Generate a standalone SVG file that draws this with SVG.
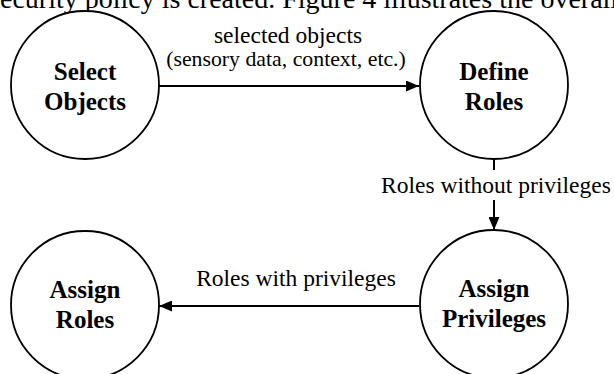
<svg xmlns="http://www.w3.org/2000/svg" width="614" height="374" viewBox="0 0 614 374">
  <style>
    .node { fill: #fff; stroke: #000; stroke-width: 1.8; }
    .nlabel { font-family: "Liberation Serif", "Times New Roman", serif; font-weight: bold; font-size: 25px; text-anchor: middle; fill: #000; }
    .elabel { font-family: "Liberation Serif", "Times New Roman", serif; font-size: 23.5px; text-anchor: middle; fill: #000; }
    .small { font-size: 21.8px; }
    .page { font-family: "Liberation Serif", "Times New Roman", serif; font-size: 28px; fill: #000; }
    .edge { stroke: #000; stroke-width: 2; fill: none; }
  </style>
  <defs>
    <marker id="arrow" markerUnits="userSpaceOnUse" markerWidth="13" markerHeight="11" refX="13" refY="5.5" orient="auto">
      <path d="M0,0 L13,5.5 L0,11 Z" fill="#000"/>
    </marker>
  </defs>
  <rect width="614" height="374" fill="#fff"/>
  <text class="page" x="0" y="8">ecurity policy is created. Figure 4 illustrates the overall</text>

  <g id="connectors">
    <line class="edge" x1="159" y1="86" x2="419" y2="86" marker-end="url(#arrow)"/>
    <line class="edge" x1="494" y1="159" x2="494" y2="170"/>
    <line class="edge" x1="494" y1="200" x2="494" y2="230" marker-end="url(#arrow)"/>
    <line class="edge" x1="419" y1="306" x2="159" y2="306" marker-end="url(#arrow)"/>
    <text class="elabel" x="288" y="43">selected objects</text>
    <text class="elabel small" x="286" y="66">(sensory data, context, etc.)</text>
    <text class="elabel" x="496" y="193">Roles without privileges</text>
    <text class="elabel" x="296" y="286">Roles with privileges</text>
  </g>

  <g id="select-objects">
    <circle class="node" cx="85" cy="85" r="74"/>
    <text class="nlabel" x="85" y="80">Select</text>
    <text class="nlabel" x="85" y="110">Objects</text>
  </g>
  <g id="define-roles">
    <circle class="node" cx="494" cy="85" r="74"/>
    <text class="nlabel" x="494" y="80">Define</text>
    <text class="nlabel" x="494" y="110">Roles</text>
  </g>
  <g id="assign-roles">
    <circle class="node" cx="85" cy="305" r="74"/>
    <text class="nlabel" x="85" y="298">Assign</text>
    <text class="nlabel" x="85" y="328">Roles</text>
  </g>
  <g id="assign-privileges">
    <circle class="node" cx="494" cy="304" r="74"/>
    <text class="nlabel" x="494" y="297">Assign</text>
    <text class="nlabel" x="494" y="327">Privileges</text>
  </g>
</svg>
